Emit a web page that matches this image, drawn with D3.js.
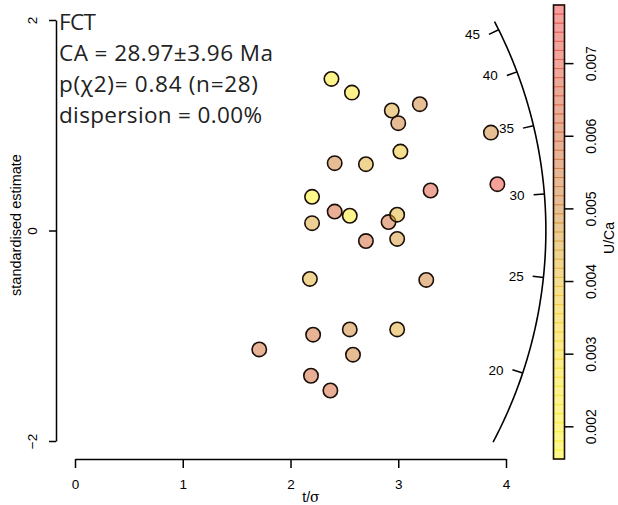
<!DOCTYPE html>
<html>
<head>
<meta charset="utf-8">
<script src="https://cdn.jsdelivr.net/npm/d3@7"></script>
<style>
  body { margin: 0; background: #fff; }
  svg { display: block; }
</style>
</head>
<body>
<svg width="618" height="505"></svg>
<script>
// grains: precision (t/sigma), standardised estimate, and U/Ca
const precision = [2.38, 2.57, 2.94, 3.20, 3.00, 3.86, 3.02, 2.41, 2.70, 3.30,
  3.92, 2.20, 2.41, 2.55, 2.20, 2.91, 2.99, 2.70, 2.99, 2.18,
  3.26, 2.21, 2.55, 2.99, 1.71, 2.58, 2.19, 2.37];
const stdEstimate = [1.44, 1.31, 1.14, 1.20, 1.02, 0.93, 0.75, 0.64, 0.63, 0.38,
  0.44, 0.32, 0.18, 0.14, 0.07, 0.08, 0.15, -0.10, -0.08, -0.46,
  -0.47, -0.99, -0.94, -0.94, -1.13, -1.18, -1.38, -1.52];
const uca = [0.0022, 0.0025, 0.0045, 0.0050, 0.0052, 0.0050, 0.0038, 0.0052, 0.0043, 0.0068,
  0.0075, 0.0018, 0.0062, 0.0022, 0.0045, 0.0058, 0.0042, 0.0060, 0.0047, 0.0043,
  0.0052, 0.0057, 0.0050, 0.0044, 0.0058, 0.0052, 0.0060, 0.0062];

const xTicks = [0, 1, 2, 3, 4];
const yTicks = [-2, 0, 2];
const arcTicks = [20, 25, 30, 35, 40, 45];
const arcAges = [16.5, 46.1];
const refAge = 27.7;      // age on the line y = 0
const arcRadius = 4.37;
const ucaRange = [0.00155, 0.0078];
const ucaTicks = [0.002, 0.003, 0.004, 0.005, 0.006, 0.007];
const summary = ["FCT", "CA = 28.97±3.96 Ma", "p(χ2)= 0.84 (n=28)", "dispersion = 0.00%"];
const summaryWidths = [37, 214, 199, 203];

const svg = d3.select("svg");
const axisFont = "Liberation Sans, Arial, Helvetica, sans-serif";

const x = d3.scaleLinear().domain([0, 4]).range([75, 506]);
const y = d3.scaleLinear().domain([-2, 2]).range([441, 20]);

// colours are drawn half transparent, like the R palette
const colour = d3.scaleLinear()
  .domain([0.00155, 0.0035, 0.0045, 0.005, 0.006, 0.0078])
  .range(["#fff515", "#f6d01a", "#dca228", "#cd7f2a", "#d2602c", "#ed3d3d"])
  .clamp(true);

// x axis
const gx = svg.append("g")
  .attr("transform", "translate(0,459)")
  .call(d3.axisBottom(x).tickValues(xTicks).tickFormat(d => d)
    .tickSize(9).tickSizeOuter(0).tickPadding(11));
gx.selectAll("text").attr("font-size", 13.5).attr("font-family", axisFont).attr("fill", "#000");
gx.selectAll("path, line").attr("stroke", "#000").attr("stroke-width", 1.5);

svg.append("text")
  .attr("x", 311).attr("y", 502)
  .attr("text-anchor", "middle")
  .attr("font-family", axisFont).attr("font-size", 14)
  .text("t/")
  .append("tspan").attr("font-family", "DejaVu Serif, serif").attr("font-size", 14).text("σ");

// y axis
const gy = svg.append("g")
  .attr("transform", "translate(56,0)")
  .call(d3.axisLeft(y).tickValues(yTicks).tickSize(7).tickSizeOuter(0)
    .tickFormat(d => d < 0 ? "−" + Math.abs(d) : d));
gy.selectAll("path, line").attr("stroke", "#000").attr("stroke-width", 1.5);
gy.selectAll("text")
  .attr("x", null).attr("dy", null)
  .attr("transform", "translate(-19,0) rotate(-90)")
  .attr("text-anchor", "middle")
  .attr("font-size", 13.5).attr("font-family", axisFont).attr("fill", "#000");

svg.append("text")
  .attr("transform", "translate(21,225) rotate(-90)")
  .attr("text-anchor", "middle")
  .attr("font-family", axisFont).attr("font-size", 14.5)
  .text("standardised estimate");

// age arc
const zRef = Math.log(refAge);
const arcPoint = (t, rr) => {
  const s = Math.log(t) - zRef;
  const u = rr / Math.sqrt(1 + s * s);
  return [x(u), y(s * u)];
};
const arcSamples = d3.range(201).map(i => arcAges[0] * Math.pow(arcAges[1] / arcAges[0], i / 200));
svg.append("path")
  .attr("d", d3.line()(arcSamples.map(t => arcPoint(t, arcRadius))))
  .attr("fill", "none").attr("stroke", "#000").attr("stroke-width", 1.6);

const tickG = svg.append("g").selectAll("g").data(arcTicks).join("g");
tickG.append("line")
  .attr("x1", t => arcPoint(t, arcRadius)[0]).attr("y1", t => arcPoint(t, arcRadius)[1])
  .attr("x2", t => arcPoint(t, arcRadius - 0.1)[0]).attr("y2", t => arcPoint(t, arcRadius - 0.1)[1])
  .attr("stroke", "#000").attr("stroke-width", 1.5);
tickG.append("text")
  .attr("x", t => arcPoint(t, arcRadius - 0.1)[0] - 9)
  .attr("y", t => arcPoint(t, arcRadius - 0.1)[1])
  .attr("dy", "0.36em")
  .attr("text-anchor", "end")
  .attr("font-family", axisFont).attr("font-size", 13.5)
  .text(t => t);

// grains
svg.append("g").selectAll("circle")
  .data(precision.map((p, i) => ({ p, z: stdEstimate[i], c: uca[i] })))
  .join("circle")
  .attr("cx", d => x(d.p))
  .attr("cy", d => y(d.z))
  .attr("r", 7.2)
  .attr("fill", d => colour(d.c))
  .attr("fill-opacity", 0.5)
  .attr("stroke", "#1a0e08")
  .attr("stroke-width", 1.6);

// summary text
svg.append("g").selectAll("text").data(summary).join("text")
  .attr("x", 59)
  .attr("y", (d, i) => 30 + i * 31.1)
  .attr("font-family", "Open Sans, sans-serif")
  .attr("font-size", 22.5)
  .attr("fill", "#222")
  .attr("textLength", (d, i) => summaryWidths[i])
  .attr("lengthAdjust", "spacing")
  .text(d => d);

// colour bar
const cy = d3.scaleLinear().domain(ucaRange).range([459, 5]);
const nSeg = 50;
const segEdges = d3.range(nSeg + 1).map(i => ucaRange[0] + (ucaRange[1] - ucaRange[0]) * i / nSeg);
svg.append("g").selectAll("rect")
  .data(d3.pairs(segEdges))
  .join("rect")
  .attr("x", 553.5).attr("width", 11)
  .attr("y", d => cy(d[1])).attr("height", d => cy(d[0]) - cy(d[1]))
  .attr("fill", d => colour((d[0] + d[1]) / 2)).attr("fill-opacity", 0.5)
  .attr("stroke", d => colour((d[0] + d[1]) / 2)).attr("stroke-opacity", 0.5);
svg.append("rect")
  .attr("x", 553.5).attr("y", 5).attr("width", 11).attr("height", 454)
  .attr("fill", "none").attr("stroke", "#1a0e08").attr("stroke-width", 1.6);

const gc = svg.append("g")
  .attr("transform", "translate(564.5,0)")
  .call(d3.axisRight(cy).tickValues(ucaTicks).tickFormat(d => d)
    .tickSize(9).tickSizeOuter(0));
gc.select(".domain").remove();
gc.selectAll("line").attr("stroke", "#000").attr("stroke-width", 1.5);
gc.selectAll("text")
  .attr("x", null).attr("dy", null)
  .attr("transform", "translate(31,0) rotate(-90)")
  .attr("text-anchor", "middle")
  .attr("font-size", 14).attr("font-family", axisFont).attr("fill", "#000");

svg.append("text")
  .attr("transform", "translate(614,238) rotate(-90)")
  .attr("text-anchor", "middle")
  .attr("font-family", axisFont).attr("font-size", 14)
  .text("U/Ca");
</script>
</body>
</html>
